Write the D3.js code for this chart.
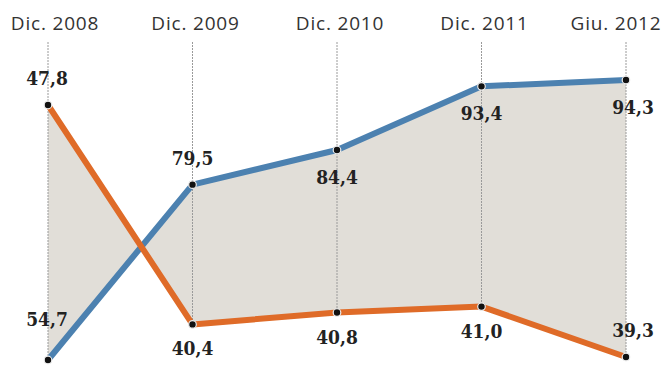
<!DOCTYPE html>
<html>
<head>
<meta charset="utf-8">
<script src="https://cdn.jsdelivr.net/npm/d3@7"></script>
<style>
  body { margin: 0; background: #fff; }
  svg { display: block; }
</style>
</head>
<body>
<div class="root"></div>
<script>
const width = 664;
const height = 367;

const periods = ["Dic. 2008", "Dic. 2009", "Dic. 2010", "Dic. 2011", "Giu. 2012"];
const blueValues = [54.7, 79.5, 84.4, 93.4, 94.3];
const orangeValues = [47.8, 40.4, 40.8, 41.0, 39.3];
// where each value label sits: 1 = above the point, -1 = below
const blueLabelSide = [1, 1, -1, -1, -1];
const orangeLabelSide = [1, -1, -1, -1, 1];

const svg = d3
  .select(".root")
  .append("svg")
  .attr("width", width)
  .attr("height", height);

const x = d3.scalePoint().domain(periods).range([48, 626]);
// each series has its own vertical scale
const yBlue = d3.scaleLinear().domain([54.7, 94.3]).range([360, 80]);
const yOrange = d3.scaleLinear().domain([39.3, 47.8]).range([357, 105]);

const blue = periods.map((p, i) => ({ x: x(p), y: yBlue(blueValues[i]), v: blueValues[i], side: blueLabelSide[i] }));
const orange = periods.map((p, i) => ({ x: x(p), y: yOrange(orangeValues[i]), v: orangeValues[i], side: orangeLabelSide[i] }));

// grey band between the two lines
const band = blue.concat(orange.slice().reverse());
svg
  .append("path")
  .attr("d", d3.line().x((d) => d.x).y((d) => d.y)(band) + "Z")
  .attr("fill", "#e1ded8")
  .attr("stroke", "none");

// vertical guides
svg
  .selectAll(".guide")
  .data(periods)
  .join("line")
  .attr("class", "guide")
  .attr("x1", (d) => x(d))
  .attr("x2", (d) => x(d))
  .attr("y1", 42)
  .attr("y2", (d, i) => Math.max(blue[i].y, orange[i].y))
  .attr("stroke", "#9a9a9a")
  .attr("stroke-width", 1)
  .attr("stroke-dasharray", "2,1");

// period headers, kept inside the window
svg
  .selectAll(".period")
  .data(periods)
  .join("text")
  .attr("class", "period")
  .attr("x", (d) => Math.min(Math.max(x(d) + 3, 55), 616))
  .attr("y", 30)
  .attr("text-anchor", "middle")
  .attr("font-family", "'Open Sans', sans-serif")
  .attr("font-size", 19)
  .attr("letter-spacing", 0.8)
  .attr("fill", "#333")
  .text((d) => d);

const line = d3.line().x((d) => d.x).y((d) => d.y);

svg
  .append("path")
  .attr("d", line(blue))
  .attr("fill", "none")
  .attr("stroke", "#4c81b0")
  .attr("stroke-width", 6)
  .attr("stroke-linejoin", "round");

svg
  .append("path")
  .attr("d", line(orange))
  .attr("fill", "none")
  .attr("stroke", "#df6b28")
  .attr("stroke-width", 6)
  .attr("stroke-linejoin", "round");

const points = blue.concat(orange);

svg
  .selectAll(".dot")
  .data(points)
  .join("circle")
  .attr("class", "dot")
  .attr("cx", (d) => d.x)
  .attr("cy", (d) => d.y)
  .attr("r", 3.8)
  .attr("fill", "#111")
  .attr("stroke", "#eee")
  .attr("stroke-width", 1.2);

// label offset from its point; the first blue label is lifted clear of the crossing lines
function labelDy(d, i) {
  if (d.side > 0) return i === 0 ? -34 : -20;
  return d.y < 200 ? 34 : 31;
}

svg
  .selectAll(".value")
  .data(points)
  .join("text")
  .attr("class", "value")
  .attr("x", (d, i) => (i % 5 === 4 ? d.x + 7 : i % 5 === 0 ? d.x - 1 : d.x))
  .attr("y", (d, i) => d.y + labelDy(d, i))
  .attr("text-anchor", "middle")
  .attr("font-family", "'DejaVu Serif Condensed', 'DejaVu Serif', serif")
  .attr("font-stretch", "condensed")
  .attr("font-weight", "bold")
  .attr("font-size", 19)
  .attr("fill", "#222")
  .text((d) => d3.format(".1f")(d.v).replace(".", ","));
</script>
</body>
</html>
